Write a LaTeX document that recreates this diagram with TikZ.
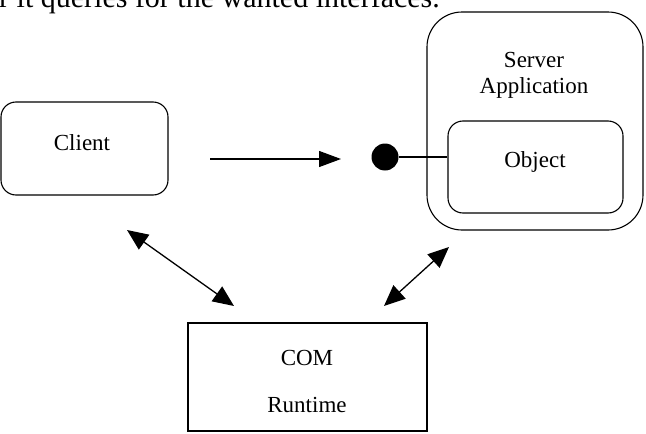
\documentclass[tikz,border=0pt]{standalone}
\usepackage{fontspec}
\setmainfont{Liberation Serif}
\usetikzlibrary{arrows.meta}
\begin{document}
\begin{tikzpicture}[x=1pt,y=-1pt,
  box/.style={draw,line width=1.1pt,inner sep=0pt},
  rbox/.style={box,rounded corners=#1},
  lbl/.style={font=\fontsize{23}{26}\selectfont,inner sep=0pt},
  conn/.style={line width=1.3pt},
  bigtip/.style={-{Triangle[length=22pt,width=16pt]}},
  dbltip/.style={{Triangle[length=21pt,width=18pt]}-{Triangle[length=21pt,width=18pt]}}]
\useasboundingbox (0,0) rectangle (646,434);
\clip (0,0) rectangle (646,434);
% cropped top text line
\node[anchor=base west,inner sep=0pt,font=\fontsize{30}{34}\selectfont] (top) at (-1,7) {r it queries for the wanted interfaces.};
% boxes
\node[rbox=15pt,minimum width=167pt,minimum height=93pt] (client) at (84.5,148.5) {};
\node[lbl] (clientt) at (82,143) {Client};
\node[rbox=35pt,minimum width=216pt,minimum height=218pt] (server) at (535,121) {};
\node[lbl] (servert) at (534,60) {Server};
\node[lbl] (appt) at (534,88) {Application};
\node[rbox=15pt,minimum width=175pt,minimum height=92pt] (obj) at (535.5,167) {};
\node[lbl] (objt) at (535,162) {Object};
\node[box,minimum width=239pt,minimum height=108pt] (com) at (307.5,377) {};
\node[lbl] (comt) at (307,358) {COM};
\node[lbl] (runt) at (307,405) {Runtime};
% interface lollipop
\node[circle,fill=black,minimum size=27pt,inner sep=0pt] (dot) at (385,157) {};
\draw[conn] (dot) -- (obj.west |- dot);
% arrows
\coordinate (a1) at (210,159);
\coordinate (a2) at (341,159);
\draw[conn,bigtip] (a1) -- (a2);
\coordinate (b1) at (127,230);
\coordinate (b2) at (234,306);
\draw[conn,dbltip] (b1) -- (b2);
\coordinate (c1) at (449,247);
\coordinate (c2) at (384,306);
\draw[conn,dbltip] (c1) -- (c2);
\end{tikzpicture}
\end{document}
